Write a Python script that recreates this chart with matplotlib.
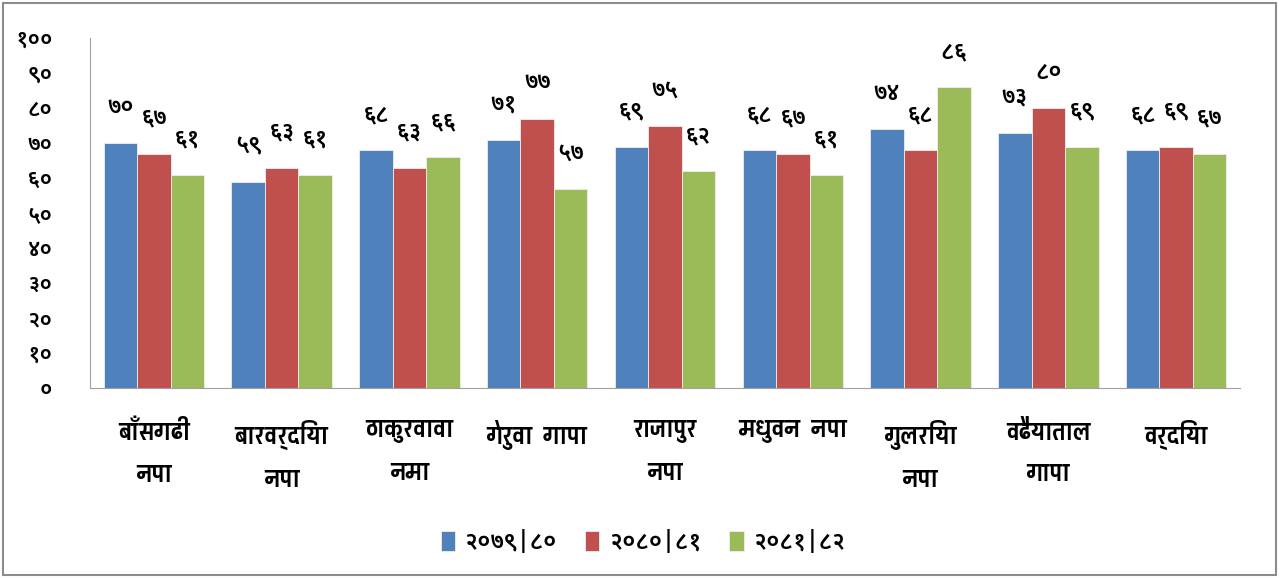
import numpy as np
import matplotlib
matplotlib.use("Agg")
import matplotlib.pyplot as plt
from matplotlib.patches import Rectangle

categories = ["बाँसगढी\nनपा", "बारवर्दिया\nनपा", "ठाकुरवावा\nनमा", "गेरुवा  गापा",
              "राजापुर\nनपा", "मधुवन  नपा", "गुलरिया\nनपा", "वढैयाताल\nगापा", "वर्दिया"]
series_names = ["२०७९|८०", "२०८०|८१", "२०८१|८२"]
v_7980 = [70, 59, 68, 71, 69, 68, 74, 73, 68]
v_8081 = [67, 63, 63, 77, 75, 67, 68, 80, 69]
v_8182 = [61, 61, 66, 57, 62, 61, 86, 69, 67]
yticks = [0, 10, 20, 30, 40, 50, 60, 70, 80, 90, 100]

DEV = "०१२३४५६७८९"
def dev(n):
    return "".join(DEV[int(c)] for c in str(n))

NUM_FONT = ["Noto Sans Devanagari UI", "Noto Sans Devanagari", "DejaVu Sans"]
LAB_FONT = ["Pragati Narrow", "Noto Sans Devanagari", "DejaVu Sans"]
plt.rcParams["font.family"] = NUM_FONT

colors = ["#4F81BD", "#C0504D", "#9BBB59"]
series = [v_7980, v_8081, v_8182]

fig = plt.figure(figsize=(12.82, 5.78), dpi=100)
ax = fig.add_axes([90/1282, 1-388/578, 1150/1282, 350/578])
x = np.arange(len(categories))
w = 0.262
for i, (vals, c, nm) in enumerate(zip(series, colors, series_names)):
    pos = x + (i - 1) * w
    ax.bar(pos, vals, w, color=c, edgecolor="#eeeeee", linewidth=0.6, label=nm)
    for p, v in zip(pos, vals):
        ax.text(p, v + 10, dev(v), ha="center", va="center", fontsize=17,
                fontweight="semibold")

ax.set_xlim(-0.5, len(categories) - 0.5)
ax.set_ylim(0, 100)
ax.set_yticks(yticks)
ax.set_yticklabels([dev(t) for t in yticks], fontsize=16, fontweight="semibold")
ax.set_xticks(x)
ax.set_xticklabels(categories, fontsize=19, linespacing=2.2, va="top",
                   family=LAB_FONT, fontweight="bold")
ax.tick_params(axis="y", length=0, pad=27)
ax.tick_params(axis="x", length=0, pad=23)
for s in ["top", "right"]:
    ax.spines[s].set_visible(False)
for s in ["left", "bottom"]:
    ax.spines[s].set_color("#a0a0a0")

leg = fig.legend(loc="center", bbox_to_anchor=(643/1282, 1-543/578), ncol=3, frameon=False,
                 prop={"family": NUM_FONT, "size": 17, "weight": "semibold"},
                 handlelength=0.6, handleheight=0.9, columnspacing=1.2, handletextpad=0.4)
fig.patches.append(Rectangle((3/1282, 3/578), 1273/1282, 572/578, transform=fig.transFigure,
                             fill=False, edgecolor="#8c8c8c", linewidth=1.5))
fig.savefig("out.png", dpi=100)
